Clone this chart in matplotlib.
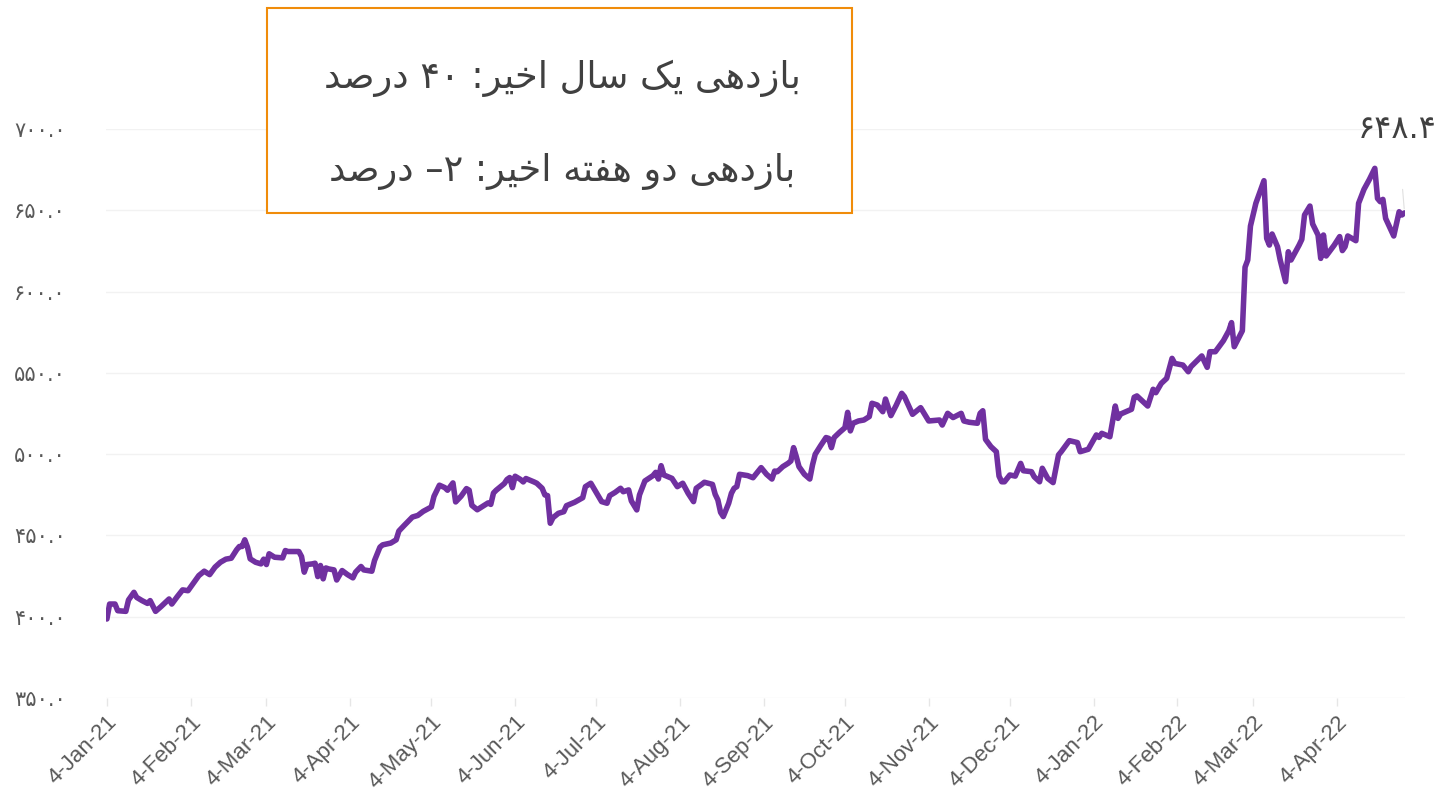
import numpy as np
import pandas as pd
import matplotlib
matplotlib.use("Agg")
import matplotlib.pyplot as plt
from matplotlib import font_manager
from matplotlib.ft2font import FT2Font

# ---------------- data ----------------
start_date = "2021-01-04"
day_offsets = [
    0, 1, 3, 4, 7, 8, 10, 11, 13, 15, 16, 18, 20, 23, 24, 26, 28, 30, 32, 34,
    36, 38, 40, 42, 44, 46, 48, 49, 50, 51, 52, 53, 55, 57, 58, 59, 60, 62, 65, 66,
    67, 71, 72, 73, 74, 76, 77, 78, 79, 80, 81, 82, 84, 85, 87, 89, 91, 92, 94, 95,
    98, 99, 101, 102, 105, 107, 108, 110, 113, 115, 117, 120, 121, 123, 125, 126, 128, 129, 131, 133,
    134, 135, 137, 139, 141, 142, 143, 144, 147, 148, 149, 150, 151, 153, 154, 155, 158, 159, 161, 162,
    163, 164, 165, 167, 169, 170, 173, 176, 177, 179, 181, 183, 185, 186, 188, 190, 191, 193, 194, 196,
    197, 199, 202, 203, 204, 205, 206, 209, 211, 213, 215, 217, 218, 220, 221, 224, 225, 226, 227, 228,
    230, 231, 232, 233, 234, 237, 239, 242, 244, 246, 247, 248, 250, 252, 253, 254, 255, 256, 258, 260,
    261, 262, 264, 266, 267, 268, 269, 271, 273, 274, 275, 276, 278, 280, 282, 283, 285, 287, 288, 290,
    292, 294, 295, 298, 301, 304, 308, 309, 311, 313, 316, 317, 319, 322, 323, 324, 325, 327, 329, 330,
    331, 332, 334, 336, 338, 339, 342, 343, 345, 346, 348, 350, 352, 353, 356, 359, 360, 363, 366, 367,
    368, 371, 373, 374, 375, 379, 380, 381, 385, 387, 388, 390, 392, 394, 395, 398, 400, 401, 405, 407,
    408, 410, 413, 415, 416, 417, 420, 421, 422, 423, 425, 428, 429, 430, 431, 433, 434, 436, 437, 438,
    440, 441, 442, 443, 445, 446, 448, 449, 450, 451, 454, 456, 457, 458, 459, 462, 463, 465, 467, 469,
    470, 471, 472, 473, 476, 478, 479, 480,
]
index_values = [
    398.6, 407.8, 407.8, 403.7, 403.3, 410.3, 415.0, 411.9, 409.9, 408.2, 409.9, 403.3, 406.2, 410.9, 407.8, 412.3, 416.5, 416.0, 420.6, 425.3,
    428.0, 425.9, 430.5, 433.5, 435.4, 436.0, 441.2, 443.2, 443.2, 447.3, 442.8, 435.6, 433.5, 432.5, 435.4, 432.1, 438.7, 436.6, 436.2, 440.7,
    440.1, 440.1, 437.0, 427.4, 432.1, 432.5, 432.9, 424.7, 431.5, 423.3, 430.0, 429.4, 428.8, 422.6, 428.4, 425.9, 423.9, 427.4, 430.9, 428.8,
    428.0, 434.6, 442.8, 444.2, 445.3, 447.3, 452.7, 456.2, 461.3, 462.3, 464.8, 467.5, 474.1, 480.9, 479.4, 477.8, 482.3, 470.6, 474.1, 478.8,
    477.8, 468.5, 465.8, 467.9, 470.0, 469.1, 476.1, 477.8, 481.9, 484.4, 485.6, 479.4, 486.4, 484.4, 482.9, 485.0, 482.9, 482.1, 479.0, 474.9,
    474.5, 457.5, 460.9, 463.6, 464.6, 468.3, 470.4, 473.2, 480.0, 482.1, 476.5, 470.8, 469.8, 474.5, 476.5, 479.0, 476.9, 478.0, 471.2, 465.7,
    474.9, 483.5, 486.8, 488.8, 484.7, 492.9, 487.2, 485.1, 480.0, 482.1, 475.9, 470.8, 479.0, 481.4, 482.7, 481.4, 475.3, 471.8, 464.2, 461.6,
    469.8, 475.9, 479.0, 480.0, 487.6, 486.8, 485.5, 491.7, 487.6, 484.7, 489.6, 489.2, 492.3, 494.4, 495.8, 504.0, 498.5, 492.3, 487.6, 484.7,
    493.3, 499.9, 505.2, 510.2, 509.7, 504.0, 510.2, 513.4, 516.3, 525.7, 514.3, 519.0, 520.4, 521.0, 523.1, 531.3, 530.2, 526.1, 533.9, 523.7,
    530.2, 537.4, 535.4, 524.5, 528.6, 520.4, 521.0, 517.9, 525.1, 522.5, 525.1, 520.4, 519.6, 519.0, 525.1, 526.7, 509.1, 504.6, 501.5, 486.5,
    483.0, 483.0, 487.2, 486.5, 494.3, 489.8, 489.2, 486.1, 483.0, 491.3, 485.1, 482.5, 499.5, 501.5, 508.3, 507.1, 501.5, 503.0, 511.8, 510.3,
    512.8, 510.7, 529.6, 522.0, 524.7, 527.6, 535.0, 535.8, 529.6, 539.9, 537.8, 543.5, 546.6, 558.9, 555.8, 554.8, 550.7, 553.8, 560.4, 553.4,
    563.0, 563.0, 569.8, 575.9, 580.9, 566.1, 575.9, 615.0, 619.4, 640.3, 654.3, 668.2, 632.7, 628.6, 635.4, 627.6, 619.4, 606.1, 624.5, 619.4,
    625.6, 628.6, 632.1, 647.1, 652.6, 641.6, 634.8, 620.4, 634.8, 621.9, 628.6, 633.8, 625.2, 627.6, 634.2, 631.3, 654.3, 662.9, 669.0, 675.8,
    657.3, 655.3, 656.7, 645.0, 634.2, 649.1, 647.1, 648.4,
]
y_ticks = [350, 400, 450, 500, 550, 600, 650, 700]
x_tick_months_start = "2021-01-01"
x_tick_months_end = "2022-04-01"
x_tick_day = 4
box_lines = ["بازدهی یک سال اخیر: ۴۰ درصد", "بازدهی دو هفته اخیر: ۲– درصد"]

# ---------------- helpers for Persian text ----------------
FA_DIGITS = str.maketrans("0123456789", "۰۱۲۳۴۵۶۷۸۹")
_font_path = font_manager.findfont("DejaVu Sans")
_ft = FT2Font(_font_path)


def _has(ch):
    return _ft.get_char_index(ord(ch)) != 0


FORMS = {
    'ا': ('\uFE8D', '\uFE8E', None, None),
    'ب': ('\uFE8F', '\uFE90', '\uFE91', '\uFE92'),
    'ت': ('\uFE95', '\uFE96', '\uFE97', '\uFE98'),
    'خ': ('\uFEA5', '\uFEA6', '\uFEA7', '\uFEA8'),
    'د': ('\uFEA9', '\uFEAA', None, None),
    'ر': ('\uFEAD', '\uFEAE', None, None),
    'ز': ('\uFEAF', '\uFEB0', None, None),
    'س': ('\uFEB1', '\uFEB2', '\uFEB3', '\uFEB4'),
    'ص': ('\uFEB9', '\uFEBA', '\uFEBB', '\uFEBC'),
    'ف': ('\uFED1', '\uFED2', '\uFED3', '\uFED4'),
    'ل': ('\uFEDD', '\uFEDE', '\uFEDF', '\uFEE0'),
    'ه': ('\uFEE9', '\uFEEA', '\uFEEB', '\uFEEC'),
    'و': ('\uFEED', '\uFEEE', None, None),
    'ی': ('\uFBFC', '\uFBFD', '\uFBFE', '\uFBFF'),
    'ک': ('\uFB8E', '\uFB8F', '\uFB90', '\uFB91'),
}
if not all(_has(c) for c in FORMS['ی']):
    FORMS['ی'] = ('\uFEEF', '\uFEF0', '\uFEF3', '\uFEF4')
if not all(_has(c) for c in FORMS['ک']):
    FORMS['ک'] = ('\uFED9', '\uFEDA', '\uFEDB', '\uFEDC')


def shape_word(w):
    out = []
    for i, c in enumerate(w):
        if c not in FORMS:
            out.append(c)
            continue
        prev = w[i - 1] if i > 0 else None
        nxt = w[i + 1] if i + 1 < len(w) else None
        jp = prev in FORMS and FORMS[prev][2] is not None
        jn = nxt in FORMS and FORMS[c][2] is not None
        f = FORMS[c]
        if jp and jn:
            g = f[3]
        elif jp:
            g = f[1]
        elif jn:
            g = f[2]
        else:
            g = f[0]
        out.append(g)
    return "".join(out)


def visual(s):
    digits = set("۰۱۲۳۴۵۶۷۸۹.")
    res = []
    for t in reversed(s.split(" ")):
        if t and all(ch in digits for ch in t):
            res.append(t)
        else:
            res.append(shape_word(t)[::-1])
    return " ".join(res)


# ---------------- figure ----------------
dates = pd.Timestamp(start_date) + pd.to_timedelta(day_offsets, unit="D")

fig = plt.figure(figsize=(14.42, 7.97), dpi=100)
ax = fig.add_axes([106 / 1442, (797 - 698) / 797, (1405 - 106) / 1442, (698 - 129) / 797])

ax.plot(dates, index_values, color="#7030A0", lw=4.0, solid_joinstyle="round",
        solid_capstyle="round", zorder=3)

ax.set_ylim(y_ticks[0], y_ticks[-1])
ax.set_xlim(dates[0] - pd.Timedelta(hours=8), dates[-1] + pd.Timedelta(hours=4))

ax.set_yticks(y_ticks)
ax.set_yticklabels([f"{v:.1f}".translate(FA_DIGITS) for v in y_ticks],
                   fontsize=15, color="#595959", family="DejaVu Sans")
ax.tick_params(axis="y", length=0, pad=29)

xt = pd.date_range(x_tick_months_start, x_tick_months_end, freq="MS") + pd.Timedelta(days=x_tick_day - 1)
ax.set_xticks(xt)
ax.set_xticklabels([f"{d.day}-{d.strftime('%b-%y')}" for d in xt], rotation=45,
                   ha="right", va="top", rotation_mode="anchor",
                   fontsize=16, color="#595959", family="Liberation Sans")
ax.tick_params(axis="x", length=6, color="#e6e6e6", width=1, pad=4)

ax.grid(axis="y", color="#f2f2f2", lw=1)
for s in ax.spines.values():
    s.set_visible(False)

# data label for last point
last_label = f"{index_values[-1]:.1f}".translate(FA_DIGITS)
ax.annotate(last_label, xy=(dates[-1], index_values[-1]), xytext=(-5, 60),
            textcoords="offset points", ha="center", va="center",
            fontsize=23, color="#404040", family="DejaVu Sans",
            arrowprops=dict(arrowstyle="-", color="#e0e0e0", lw=0.8,
                            shrinkA=30, shrinkB=3))

# text box
box = plt.Rectangle((267 / 1442, 1 - 213 / 797), (852 - 267) / 1442, (213 - 8) / 797,
                    transform=fig.transFigure, facecolor="white",
                    edgecolor="#F08C0A", lw=1.5, zorder=5)
fig.patches.append(box)
fig.text(562 / 1442, 1 - 78 / 797, visual(box_lines[0]), ha="center", va="center",
         fontsize=26.5, color="#404040", family="DejaVu Sans", zorder=6)
fig.text(562 / 1442, 1 - 172 / 797, visual(box_lines[1]), ha="center", va="center",
         fontsize=26.5, color="#404040", family="DejaVu Sans", zorder=6)

fig.savefig("out.png", dpi=100, facecolor="white")
